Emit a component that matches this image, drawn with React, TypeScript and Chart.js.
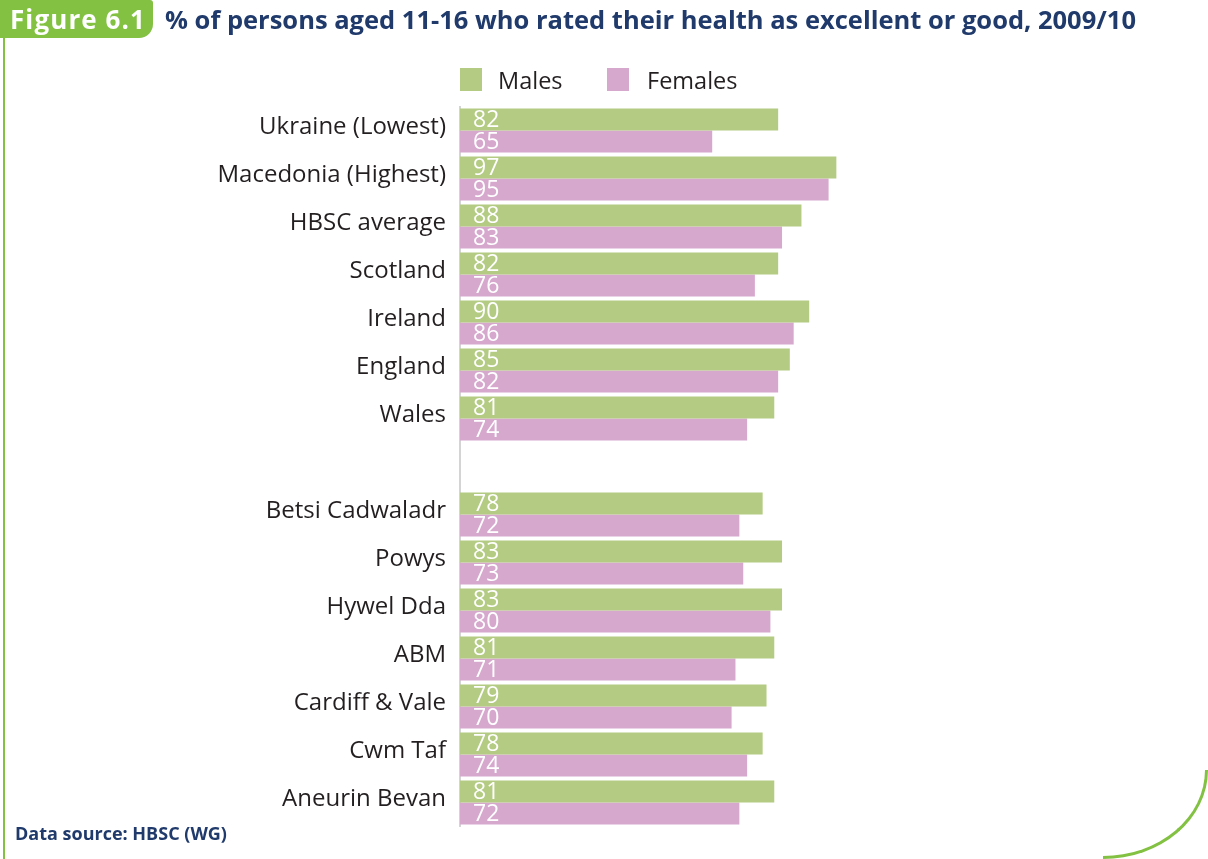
import React, { useEffect, useRef } from "react";
import { Chart, registerables } from "chart.js";

Chart.register(...registerables);

const categories = [
  "Ukraine (Lowest)",
  "Macedonia (Highest)",
  "HBSC average",
  "Scotland",
  "Ireland",
  "England",
  "Wales",
  "",
  "Betsi Cadwaladr",
  "Powys",
  "Hywel Dda",
  "ABM",
  "Cardiff & Vale",
  "Cwm Taf",
  "Aneurin Bevan",
];
const males = [82, 97, 88, 82, 90, 85, 81, null, 78, 83, 83, 81, 79, 78, 81];
const females = [65, 95, 83, 76, 86, 82, 74, null, 72, 73, 80, 71, 70, 74, 72];
const seriesNames = ["Males", "Females"];

const GREEN = "#b3cb82";
const PINK = "#d6a8cd";
const BRAND = "#82c142";
const NAVY = "#1f3a6b";
const FONT = '"Open Sans", "Noto Sans", sans-serif';

const valueLabels = {
  id: "valueLabels",
  afterDatasetsDraw(chart: any) {
    const ctx = chart.ctx;
    ctx.save();
    ctx.font = `23px ${FONT}`;
    ctx.fillStyle = "#ffffff";
    ctx.textBaseline = "middle";
    ctx.textAlign = "left";
    chart.data.datasets.forEach((ds: any, i: number) => {
      const meta = chart.getDatasetMeta(i);
      meta.data.forEach((bar: any, j: number) => {
        const v = ds.data[j];
        if (v == null) return;
        ctx.fillText(String(v), bar.base + 13, bar.y + 1);
      });
    });
    ctx.restore();
  },
};

export default function App() {
  const ref = useRef<HTMLCanvasElement>(null);

  useEffect(() => {
    document.body.style.margin = "0";
    const chart = new Chart(ref.current!, {
      type: "bar",
      data: {
        labels: categories,
        datasets: [
          {
            label: seriesNames[0],
            data: males,
            backgroundColor: GREEN,
            barPercentage: 1,
            categoryPercentage: 44 / 48,
          },
          {
            label: seriesNames[1],
            data: females,
            backgroundColor: PINK,
            barPercentage: 1,
            categoryPercentage: 44 / 48,
          },
        ],
      },
      options: {
        indexAxis: "y",
        responsive: false,
        animation: false,
        devicePixelRatio: 1,
        layout: { padding: { top: 106.5, bottom: 32.5, left: 0, right: 360 } },
        plugins: {
          legend: { display: false },
          tooltip: { enabled: false },
        },
        scales: {
          x: { display: false, min: 0, max: 100 },
          y: {
            grid: { display: false, drawTicks: false },
            border: { display: true, color: "#d4d4d4", width: 2 },
            ticks: {
              color: "#231f20",
              font: { family: FONT, size: 24 },
              padding: 14,
              labelOffset: -3,
              autoSkip: false,
            },
            afterFit: (s: any) => {
              s.width = 460;
            },
          },
        },
      },
      plugins: [valueLabels],
    });
    return () => chart.destroy();
  }, []);

  return (
    <div style={{ position: "fixed", left: 0, top: 0, width: 1208, height: 859, overflow: "hidden", background: "#fff", fontFamily: FONT }}>
      <canvas ref={ref} width={1208} height={859} style={{ position: "absolute", left: 0, top: 0, width: 1208, height: 859 }} />
      <div style={{ position: "absolute", left: 0, top: 0, width: 153, height: 38, background: BRAND, borderBottomRightRadius: 14, borderTopRightRadius: 3 }} />
      <div style={{ position: "absolute", left: 10, top: 3, height: 32, lineHeight: "32px", color: "#fff", fontWeight: 700, fontSize: 26, letterSpacing: "1.1px", whiteSpace: "nowrap" }}>Figure 6.1</div>
      <div style={{ position: "absolute", left: 165, top: 3, height: 32, lineHeight: "32px", color: NAVY, fontWeight: 700, fontSize: 25.5, whiteSpace: "nowrap" }}>
        % of persons aged 11-16 who rated their health as excellent or good, 2009/10
      </div>
      <div style={{ position: "absolute", left: 3, top: 38, width: 2, height: 821, background: BRAND }} />
      <div style={{ position: "absolute", right: 0, bottom: 0, width: 105, height: 89, boxSizing: "border-box", borderRight: `3px solid ${BRAND}`, borderBottom: `3px solid ${BRAND}`, borderBottomRightRadius: "105px 89px" }} />
      <div style={{ position: "absolute", left: 460, top: 68, width: 22, height: 23, background: GREEN }} />
      <div style={{ position: "absolute", left: 498, top: 68, height: 25, lineHeight: "25px", fontSize: 23.5, color: "#231f20" }}>{seriesNames[0]}</div>
      <div style={{ position: "absolute", left: 607, top: 68, width: 22, height: 23, background: PINK }} />
      <div style={{ position: "absolute", left: 647, top: 68, height: 25, lineHeight: "25px", fontSize: 23.5, color: "#231f20" }}>{seriesNames[1]}</div>
      <div style={{ position: "absolute", left: 15, top: 822, height: 22, lineHeight: "22px", color: NAVY, fontWeight: 700, fontSize: 18, whiteSpace: "nowrap" }}>Data source: HBSC (WG)</div>
    </div>
  );
}
